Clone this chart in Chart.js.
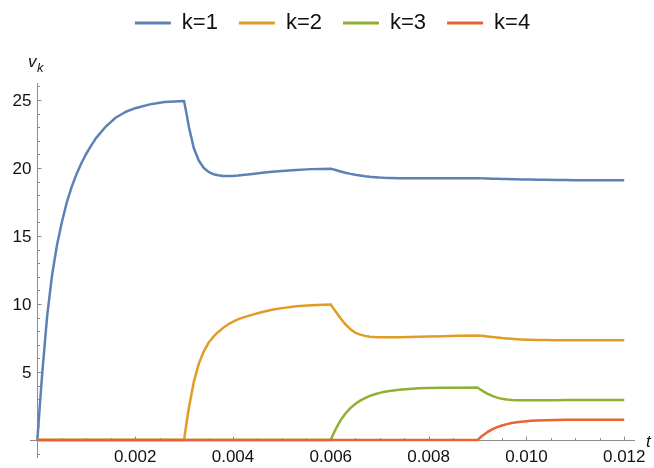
<!DOCTYPE html>
<html>
<head>
    <title>v_k over t</title>
    <script src="https://cdn.jsdelivr.net/npm/chart.js"></script>
    <style>
        body { margin: 0; background: #ffffff; }
    </style>
</head>
<body>
    <canvas id="vkChart" width="654" height="468"></canvas>

    <script>
        // sample times (s), shared by all four curves
        var times = [
            0, 0.00005, 0.0001, 0.0002, 0.0003, 0.0004, 0.0005, 0.0006, 0.0007, 0.0008,
            0.0009, 0.0010, 0.0011, 0.0012, 0.0014, 0.0016, 0.0018, 0.0020, 0.0023, 0.0026,
            0.0030, 0.00305, 0.0031, 0.0032, 0.0033, 0.0034, 0.0035, 0.0036, 0.0037, 0.0038,
            0.0039, 0.0040, 0.0041, 0.0042, 0.0044, 0.0046, 0.0048, 0.0050, 0.0053, 0.0056,
            0.0060, 0.00605, 0.0061, 0.0062, 0.0063, 0.0064, 0.0065, 0.0066, 0.0067, 0.0068,
            0.0069, 0.0070, 0.0071, 0.0072, 0.0074, 0.0076, 0.0078, 0.0080, 0.0083, 0.0086,
            0.0090, 0.00905, 0.0091, 0.0092, 0.0093, 0.0094, 0.0095, 0.0096, 0.0097, 0.0098,
            0.0099, 0.0100, 0.0101, 0.0102, 0.0104, 0.0106, 0.0108, 0.0110, 0.0113, 0.0116,
            0.0120
        ];

        var v1 = [
            0, 2.5, 4.9, 9.1, 12.1, 14.3, 16.0, 17.45, 18.6, 19.55,
            20.35, 21.05, 21.65, 22.2, 23.05, 23.7, 24.12, 24.4, 24.68, 24.85,
            24.93, 24.0, 23.0, 21.45, 20.55, 20.02, 19.72, 19.55, 19.47, 19.42,
            19.41, 19.42, 19.45, 19.49, 19.57, 19.65, 19.73, 19.79, 19.86, 19.92,
            19.95, 19.9, 19.85, 19.75, 19.65, 19.57, 19.5, 19.45, 19.4, 19.36,
            19.33, 19.3, 19.28, 19.27, 19.25, 19.24, 19.24, 19.24, 19.25, 19.25,
            19.25, 19.25, 19.24, 19.23, 19.22, 19.21, 19.2, 19.19, 19.18, 19.17,
            19.16, 19.15, 19.15, 19.14, 19.13, 19.12, 19.12, 19.11, 19.1, 19.1,
            19.1
        ];
        var v2 = [
            0, 0, 0, 0, 0, 0, 0, 0, 0, 0,
            0, 0, 0, 0, 0, 0, 0, 0, 0, 0,
            0, 1.25, 2.4, 4.3, 5.6, 6.5, 7.15, 7.6, 7.95, 8.25,
            8.5, 8.7, 8.87, 9.0, 9.22, 9.42, 9.58, 9.7, 9.83, 9.91,
            9.97, 9.7, 9.45, 8.95, 8.5, 8.15, 7.9, 7.75, 7.66, 7.6,
            7.57, 7.55, 7.55, 7.55, 7.56, 7.58, 7.6, 7.62, 7.64, 7.66,
            7.68, 7.67, 7.66, 7.62, 7.58, 7.54, 7.5, 7.47, 7.44, 7.42,
            7.4, 7.38, 7.37, 7.36, 7.35, 7.34, 7.33, 7.33, 7.33, 7.33,
            7.33
        ];
        var v3 = [
            0, 0, 0, 0, 0, 0, 0, 0, 0, 0,
            0, 0, 0, 0, 0, 0, 0, 0, 0, 0,
            0, 0, 0, 0, 0, 0, 0, 0, 0, 0,
            0, 0, 0, 0, 0, 0, 0, 0, 0, 0,
            0, 0.42, 0.8, 1.45, 1.95, 2.35, 2.65, 2.9, 3.08, 3.25,
            3.37, 3.47, 3.55, 3.61, 3.7, 3.76, 3.8, 3.82, 3.84, 3.85,
            3.86, 3.74, 3.62, 3.42, 3.25, 3.12, 3.03, 2.98, 2.95, 2.93,
            2.92, 2.92, 2.92, 2.92, 2.93, 2.93, 2.94, 2.94, 2.95, 2.95,
            2.95
        ];
        var v4 = [
            0, 0, 0, 0, 0, 0, 0, 0, 0, 0,
            0, 0, 0, 0, 0, 0, 0, 0, 0, 0,
            0, 0, 0, 0, 0, 0, 0, 0, 0, 0,
            0, 0, 0, 0, 0, 0, 0, 0, 0, 0,
            0, 0, 0, 0, 0, 0, 0, 0, 0, 0,
            0, 0, 0, 0, 0, 0, 0, 0, 0, 0,
            0, 0.17, 0.32, 0.58, 0.79, 0.95, 1.07, 1.17, 1.25, 1.31,
            1.35, 1.38, 1.41, 1.43, 1.46, 1.48, 1.49, 1.5, 1.5, 1.5,
            1.5
        ];

        var seriesNames = ['k=1', 'k=2', 'k=3', 'k=4'];
        var seriesValues = [v1, v2, v3, v4];
        var seriesColors = ['#5E81B5', '#E19C24', '#8FB032', '#EB6235'];

        var xTicks = [0.002, 0.004, 0.006, 0.008, 0.010, 0.012];
        var xTickLabels = ['0.002', '0.004', '0.006', '0.008', '0.010', '0.012'];
        var yTicks = [5, 10, 15, 20, 25];
        var yTickLabels = ['5', '10', '15', '20', '25'];

        var FONT = '"Liberation Sans", Arial, sans-serif';
        var xMin = -0.00015, xMax = 0.01222;
        var yMin = -1.32, yTop = 26.25;

        function toPoints(values) {
            return values.map(function (v, i) { return { x: times[i], y: v }; });
        }

        // axes crossing at the origin, ticks pointing inward
        var crossAxes = {
            id: 'crossAxes',
            beforeDatasetsDraw: function (chart) {
                var ctx = chart.ctx;
                var xs = chart.scales.x, ys = chart.scales.y;
                var x0 = Math.round(xs.getPixelForValue(0)) + 0.5;
                var y0 = Math.round(ys.getPixelForValue(0)) + 0.5;
                ctx.save();
                ctx.strokeStyle = '#8c8c8c';
                ctx.lineWidth = 1;
                ctx.beginPath();
                ctx.moveTo(xs.getPixelForValue(xMin), y0);
                ctx.lineTo(xs.getPixelForValue(xMax), y0);
                ctx.moveTo(x0, ys.getPixelForValue(yMin));
                ctx.lineTo(x0, ys.getPixelForValue(yTop));

                // minor ticks every 0.0005 and every 1, major ones a bit longer
                for (var i = 1; i <= 24; i++) {
                    var px = Math.round(xs.getPixelForValue(i * 0.0005)) + 0.5;
                    ctx.moveTo(px, y0);
                    ctx.lineTo(px, y0 - (i % 4 === 0 ? 4 : 2.5));
                }
                for (var j = -1; j <= 26; j++) {
                    if (j === 0) continue;
                    var py = Math.round(ys.getPixelForValue(j)) + 0.5;
                    ctx.moveTo(x0, py);
                    ctx.lineTo(x0 + (j % 5 === 0 ? 4 : 2.5), py);
                }
                ctx.stroke();

                ctx.fillStyle = '#111111';
                ctx.font = '17px ' + FONT;
                ctx.textAlign = 'center';
                ctx.textBaseline = 'middle';
                xTicks.forEach(function (t, k) {
                    ctx.fillText(xTickLabels[k], xs.getPixelForValue(t), y0 + 17);
                });
                ctx.textAlign = 'right';
                yTicks.forEach(function (v, k) {
                    ctx.fillText(yTickLabels[k], x0 - 6, ys.getPixelForValue(v) + 1);
                });

                // axis labels
                ctx.textAlign = 'left';
                ctx.textBaseline = 'alphabetic';
                ctx.font = 'italic 17px ' + FONT;
                ctx.fillText('v', 28, 67);
                ctx.font = 'italic 13px ' + FONT;
                ctx.fillText('k', 37, 72);
                ctx.font = 'italic 17px ' + FONT;
                ctx.fillText('t', 646, 447);
                ctx.restore();
            }
        };

        var ctx = document.getElementById('vkChart').getContext('2d');
        var vkChart = new Chart(ctx, {
            type: 'line',
            data: {
                datasets: seriesNames.map(function (name, i) {
                    return {
                        label: name,
                        data: toPoints(seriesValues[i]),
                        borderColor: seriesColors[i],
                        backgroundColor: seriesColors[i],
                        borderWidth: 2.5,
                        borderJoinStyle: 'round',
                        pointRadius: 0,
                        tension: 0,
                        fill: false,
                        order: 4 - i   // later curves drawn on top
                    };
                })
            },
            options: {
                responsive: false,
                animation: false,
                layout: { padding: { left: 30, right: 19, top: -9, bottom: 10 } },
                plugins: {
                    legend: {
                        position: 'top',
                        labels: {
                            boxWidth: 36,
                            boxHeight: 3,
                            padding: 21,
                            color: '#111111',
                            font: { size: 22, family: FONT },
                            sort: function (a, b) { return a.datasetIndex - b.datasetIndex; },
                            generateLabels: function (chart) {
                                return Chart.defaults.plugins.legend.labels.generateLabels(chart).map(function (item) {
                                    item.lineWidth = 0;
                                    return item;
                                });
                            }
                        }
                    },
                    tooltip: { enabled: false }
                },
                scales: {
                    x: { type: 'linear', display: false, min: xMin, max: xMax },
                    y: { type: 'linear', display: false, min: yMin, max: 29.12 }
                }
            },
            plugins: [crossAxes]
        });
    </script>
</body>
</html>
